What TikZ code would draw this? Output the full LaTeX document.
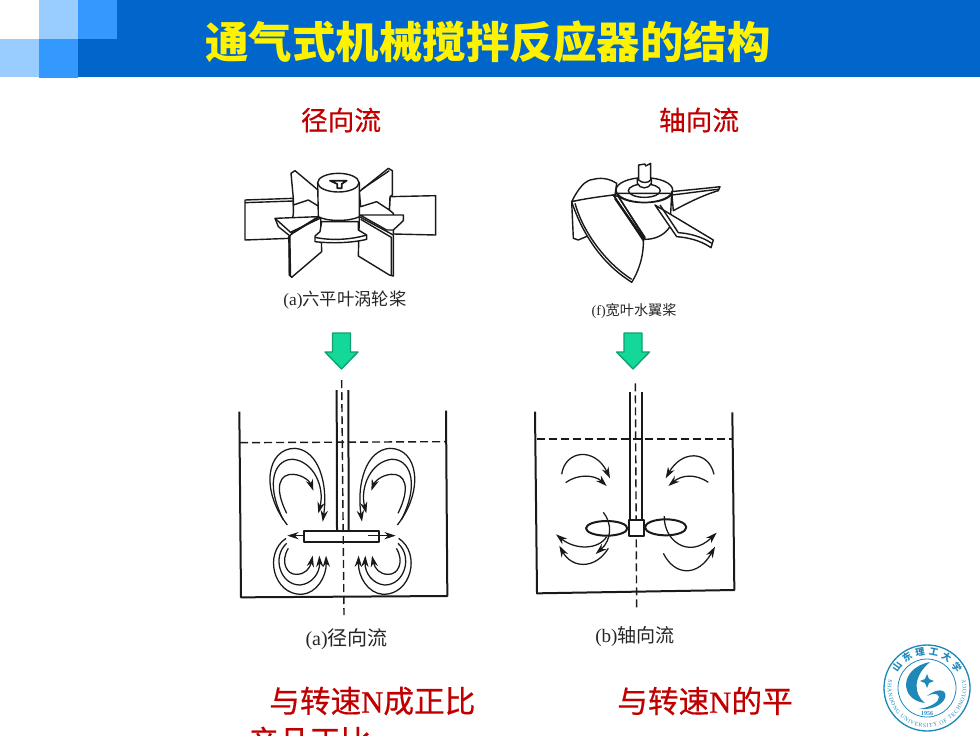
\documentclass[tikz,border=0pt]{standalone}
\usepackage{fontspec}
\setmainfont{Liberation Serif}
\newfontfamily\cjk{Noto Sans CJK SC}
\newfontfamily\cjkm[FakeBold=0.5]{Noto Sans CJK SC}
\newfontfamily\serifm[FakeBold=0.5]{Liberation Serif}
\usetikzlibrary{arrows.meta,decorations.text}
\definecolor{band}{HTML}{0066CC}
\definecolor{midb}{HTML}{3399FF}
\definecolor{ligb}{HTML}{99CCFF}
\definecolor{redt}{HTML}{C00000}
\definecolor{grn}{HTML}{14D79A}
\definecolor{grnd}{HTML}{10A070}
\definecolor{teal1}{HTML}{1E88B8}
\tikzset{
 ink/.style={draw=black!90,line width=1.05pt,line join=round},
 thick ink/.style={draw=black!90,line width=1.5pt,line join=round},
 flow/.style={draw=black!90,line width=.95pt,-{Stealth[length=8.5pt,width=5.5pt]}},
 zone/.style={x=.25pt,y=-.25pt},
 redlabel/.style={text=redt,inner sep=0pt,font=\cjkm\fontsize{20}{20}\selectfont},
 biglabel/.style={text=redt,inner sep=0pt,anchor=west,font=\cjkm\fontsize{23}{23}\selectfont},
 caption/.style={text=black!85,inner sep=0pt},
 downarrow/.style={fill=grn,draw=grnd,line width=1pt,line join=round},
}
\begin{document}
\begin{tikzpicture}[x=.75pt,y=-.75pt]
\useasboundingbox (0,0) rectangle (980,735);
\clip (0,0) rectangle (980,735);
% header
\fill[band] (78,39) rectangle (980,77);
\fill[band] (117,0) rectangle (980,39);
\fill[ligb] (39,0) rectangle (78,39);
\fill[midb] (78,0) rectangle (117,39);
\fill[ligb] (0,39) rectangle (39,77);
\fill[midb] (39,39) rectangle (78,78);
\node[text=yellow,inner sep=0pt,font=\cjk\bfseries\fontsize{32.6}{33}\selectfont] (title) at (488,42) {通气式机械搅拌反应器的结构};
\node[redlabel] (lrad) at (341,120) {径向流};
\node[redlabel] (lax) at (699,120) {轴向流};
\node[biglabel] (n1) at (269,701) {与转速{\serifm N}成正比};
\node[biglabel] (n2) at (248,741) {产品正比};
\node[biglabel] (n3) at (617,701) {与转速{\serifm N}的平};
% green arrows
\foreach \cx in {341.5,633}{
 \draw[downarrow] (\cx-9,333)--(\cx+9,333)--(\cx+9,352)--(\cx+16.5,352)--(\cx,369)--(\cx-16.5,352)--(\cx-9,352)--cycle;
}
% radial turbine
\begin{scope}[shift={(230,150)},zone]
 \draw[ink,fill=white] (480,140)--(617,137)--(617,255)--(490,252)--(490,190)--(478,180)--cycle;
 \draw[ink,fill=white] (45,150)--(190,145)--(190,190)--(180,265)--(45,270)--cycle;
 \draw[ink] (45,158)--(190,153);
 \draw[ink,fill=white] (183,70)--(195,62)--(270,125)--(268,170)--(235,150)--(190,165)--(190,145)--cycle;
 \draw[ink,fill=white] (388,125)--(475,55)--(487,62)--(487,135)--(480,140)--(478,180)--(440,155)--(392,170)--cycle;
 \draw[ink] (395,118)--(478,62);
 \draw[ink,fill=white] (135,205)--(265,200)--(270,215)--(185,262)--(145,230)--cycle;
 \draw[ink,fill=white] (390,195)--(520,195)--(520,212)--(490,240)--(470,240)--cycle;
 \draw[ink] (135,205)--(185,250)--(265,200);
 \draw[ink,fill=white] (178,258)--(188,250)--(272,198)--(275,305)--(185,382)--(178,375)--cycle;
 \draw[line width=1.8pt,black!90] (178,258)--(180,378);
 \draw[ink] (183,246)--(270,205);
 \draw[ink,fill=white] (388,200)--(490,255)--(490,378)--(478,375)--(385,318)--cycle;
 \draw[ink] (392,208)--(484,262)--(484,375);
 \draw[ink,fill=white] (275,215)--(385,215)--(385,240)--(410,255)--(410,268) .. controls (360,280) and (300,280) .. (255,275)--(255,258)--(270,245)--cycle;
 \draw[ink] (255,262) .. controls (300,272) and (360,270) .. (410,255);
 \draw[ink,fill=white] (263,98)--(265,200) .. controls (290,215) and (360,215) .. (388,200)--(388,98)--cycle;
 \draw[ink,fill=white] (325,98) ellipse (62 and 28);
 \draw[ink,line width=1.3pt] (300,92)--(350,92)--(335,102)--(335,115)--(322,115)--(322,102)--cycle;
 \node[caption,font=\cjk\fontsize{13}{13}\selectfont] (cap1) at (345,450) {{\fontspec{Liberation Serif}(a)}六平叶涡轮桨};
\end{scope}
% propeller
\begin{scope}[shift={(550,150)},zone]
 \draw[ink,fill=white] (65,155)--(70,265)--(85,270)--(120,255)--cycle;
 \draw[ink,fill=white] (65,155) .. controls (85,115) and (105,90) .. (130,88) .. controls (160,80) and (185,90) .. (200,100)--(195,135)--cycle;
 \draw[ink,fill=white] (365,125) .. controls (410,120) and (470,115) .. (510,110)--(505,122) .. controls (460,135) and (410,160) .. (370,182)--cycle;
 \draw[ink] (365,135) .. controls (410,130) and (465,122) .. (505,118);
 \draw[ink,fill=white] (200,130)--(365,130)--(360,230) .. controls (340,260) and (310,268) .. (285,268)--cycle;
 \draw[ink,fill=white] (315,165)--(490,270)--(483,293) .. controls (450,270) and (410,262) .. (380,260)--cycle;
 \draw[ink] (330,165)--(385,248) .. controls (420,250) and (460,262) .. (485,280);
 \draw[ink,fill=white] (65,155) .. controls (110,145) and (150,140) .. (190,135)--(280,265) .. controls (282,320) and (265,365) .. (245,397)--(232,388) .. controls (160,340) and (100,260) .. (65,155);
 \draw[ink] (75,160) .. controls (100,250) and (170,340) .. (245,388);
 \draw[ink] (190,135)--(205,140)--(285,262)--(280,272)--cycle;
 \draw[line width=1.6pt,black!90] (195,145)--(280,268);
 \draw[ink,fill=white] (198,122) .. controls (198,170) and (368,170) .. (368,122)--(368,120) arc (0:360:85 and 37);
 \draw[ink] (283,122) ellipse (48 and 20);
 \draw[ink,fill=white] (262,85)--(262,100) .. controls (270,118) and (296,118) .. (304,100)--(304,85)--cycle;
 \draw[ink,fill=white] (266,45)--(285,42)--(287,48)--(302,40)--(302,90) .. controls (295,100) and (275,100) .. (266,90)--cycle;
 \node[caption,font=\cjk\fontsize{10.6}{11}\selectfont] (cap2) at (252,482) {{\fontspec{Liberation Serif}(f)}宽叶水翼桨};
\end{scope}
% radial tank
\begin{scope}[shift={(230,380)},zone]
 \draw[thick ink] (28,95)--(33,652)--(652,648)--(648,92);
 \draw[ink,dash pattern=on 6pt off 3pt] (30,188)--(648,185);
 \draw[ink,dash pattern=on 6pt off 3pt] (335,0)--(342,705);
 \draw[thick ink] (320,30)--(321,450) (355,30)--(356,450);
 \draw[thick ink] (222,452) rectangle (447,485);
 \foreach \m/\o in {1/0,-1/674}{
 \begin{scope}[xshift=\o*.25pt,x=\m*.25pt]
  \draw[flow] (172,435) .. controls (90,330) and (110,205) .. (195,205) .. controls (265,210) and (295,310) .. (278,425);
  \draw[flow] (160,420) .. controls (100,300) and (140,235) .. (190,238) .. controls (250,245) and (285,320) .. (265,400);
  \draw[flow] (170,400) .. controls (130,320) and (150,280) .. (190,283) .. controls (220,285) and (240,305) .. (250,332);
  \draw[flow] (168,475) .. controls (100,520) and (130,645) .. (215,643) .. controls (260,640) and (290,590) .. (288,527);
  \draw[flow] (170,490) .. controls (125,530) and (150,615) .. (210,615) .. controls (245,612) and (270,580) .. (268,527);
  \draw[flow] (175,505) .. controls (150,545) and (170,585) .. (200,583) .. controls (225,583) and (240,565) .. (248,527);
 \end{scope}}
 \draw[flow] (222,467)--(172,467);
 \draw[flow] (415,467)--(497,467);
 \node[caption,font=\cjk\fontsize{15}{15}\selectfont] (cap3) at (350,779) {{\fontspec{Liberation Serif}(a)}径向流};
\end{scope}
% axial tank
\begin{scope}[shift={(525,380)},zone]
 \draw[thick ink] (30,95)--(36,640)--(628,630)--(622,97);
 \draw[ink,dash pattern=on 6pt off 3pt] (35,177)--(622,177);
 \draw[ink,dash pattern=on 6pt off 3pt] (331,10)--(335,690);
 \draw[thick ink] (314,35)--(314,420) (350,35)--(350,420);
 \draw[thick ink] (245,445) ellipse (62 and 22);
 \draw[thick ink] (422,442) ellipse (62 and 24);
 \draw[thick ink,fill=white] (311,420) rectangle (358,468);
 \draw[flow] (110,283) .. controls (120,210) and (210,200) .. (255,295);
 \draw[flow] (122,308) .. controls (160,280) and (210,285) .. (245,318);
 \draw[flow] (567,283) .. controls (550,210) and (470,210) .. (422,295);
 \draw[flow] (550,307) .. controls (510,280) and (470,285) .. (430,318);
 \draw[flow] (235,397) .. controls (262,430) and (260,480) .. (212,522);
 \draw[flow] (245,470) .. controls (220,510) and (150,510) .. (93,463);
 \draw[flow] (250,505) .. controls (210,570) and (140,565) .. (103,497);
 \draw[flow] (418,408) .. controls (415,480) and (490,540) .. (575,458);
 \draw[flow] (415,520) .. controls (450,590) and (520,590) .. (570,500);
 \node[caption,font=\cjk\fontsize{14.3}{14.3}\selectfont] (cap4) at (330,768) {{\fontspec{Liberation Serif}(b)}轴向流};
\end{scope}
% logo
\begin{scope}[shift={(927,688)}]
 \draw[teal1,line width=1pt] (0,0) circle (43);
 \draw[teal1,line width=.6pt] (0,0) circle (29);
 \fill[teal1] (3,-26) .. controls (-28,-20) and (-28,12) .. (-2,15) .. controls (-14,6) and (-14,-12) .. (3,-26)--cycle;
 \fill[teal1] (0,8) .. controls (14,-3) and (22,4) .. (17,12) .. controls (12,19) and (2,22) .. (-8,21) .. controls (4,19) and (12,14) .. (12,9) .. controls (11,5) and (6,5) .. (0,8)--cycle;
 \fill[teal1] (0,-14) -- (2,-9) -- (7,-7) -- (2,-5) -- (0,0) -- (-2,-5) -- (-7,-7) -- (-2,-9) -- cycle;
 \node[text=teal1,inner sep=0pt,font=\bfseries\fontsize{4.5}{4.5}\selectfont] (year) at (0,26) {1956};
 \path[postaction={decorate,decoration={text along path,text align=fit to path,text={|\color{teal1}\fontsize{4.3}{4.3}\selectfont|SHANDONG UNIVERSITY OF TECHNOLOGY}}}] (-38.4,-8.2) arc (192:-12:39.3);
 \path[postaction={decorate,decoration={text along path,text align=fit to path,text={|\color{teal1}\cjk\bfseries\fontsize{7}{7}\selectfont|山东理工大学}}}] (-29.5,-15) arc (207:333:33);
\end{scope}
\end{tikzpicture}
\end{document}
